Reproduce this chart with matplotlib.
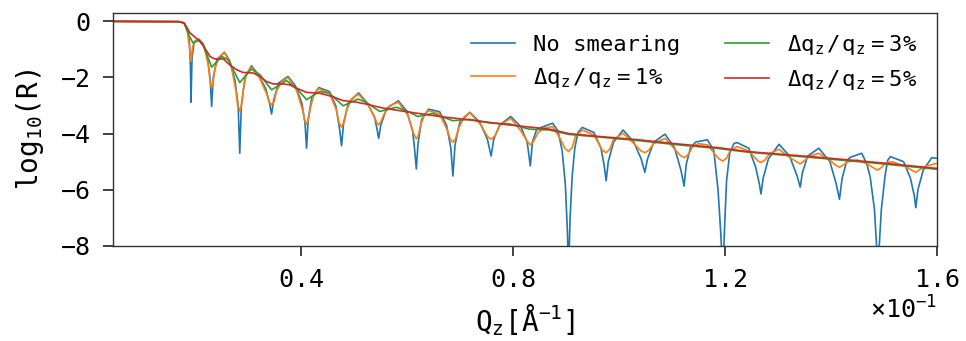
import matplotlib
matplotlib.use("Agg")
import matplotlib.pyplot as plt

# reflectivity curves (log10 R)
q_none = [0.0046, 0.0170, 0.0180, 0.0186, 0.0190, 0.0192, 0.0193, 0.0195, 0.0199,
          0.0208, 0.0216, 0.0224, 0.0229, 0.0232, 0.0235, 0.0242,
          0.0256, 0.0266, 0.0276, 0.0282, 0.0285, 0.0288, 0.0295,
          0.0307, 0.0320, 0.0334, 0.0341, 0.0345, 0.0349, 0.0358,
          0.0376, 0.0390, 0.0402, 0.0408, 0.0411, 0.0414, 0.0421,
          0.0434, 0.0454, 0.0466, 0.0473, 0.0477, 0.0481, 0.0490,
          0.0509, 0.0525, 0.0539, 0.0544, 0.0547, 0.0551, 0.0562,
          0.0584, 0.0600, 0.0611, 0.0615, 0.0618, 0.0621, 0.0628,
          0.0641, 0.0662, 0.0675, 0.0683, 0.0687, 0.0691, 0.0700,
          0.0719, 0.0738, 0.0752, 0.0759, 0.0764, 0.0775,
          0.0796, 0.0815, 0.0827, 0.0833, 0.0837, 0.0845,
          0.0855, 0.0875, 0.0885, 0.0893, 0.0899, 0.0903, 0.0905, 0.0908, 0.0912, 0.0917, 0.0923,
          0.0931, 0.0953, 0.0966, 0.0972, 0.0976, 0.0980, 0.0990,
          0.1008, 0.1028, 0.1042, 0.1049, 0.1054, 0.1066,
          0.1087, 0.1105, 0.1117, 0.1123, 0.1127, 0.1135,
          0.1145, 0.1167, 0.1179, 0.1187, 0.1192, 0.1196, 0.1199, 0.1203, 0.1209, 0.1217,
          0.1223, 0.1245, 0.1258, 0.1265, 0.1268, 0.1272, 0.1282,
          0.1302, 0.1322, 0.1336, 0.1342, 0.1346, 0.1356,
          0.1377, 0.1398, 0.1410, 0.1416, 0.1421, 0.1430,
          0.1437, 0.1458, 0.1468, 0.1474, 0.1482, 0.1486, 0.1488, 0.1491, 0.1495, 0.1502, 0.1507,
          0.1512, 0.1537, 0.1550, 0.1557, 0.1560, 0.1564, 0.1574,
          0.1590, 0.1600]
r_none = [0.0, -0.01, -0.05, -0.25, -0.7, -1.6, -2.88, -1.3, -0.75,
          -0.63, -0.8, -1.3, -2.0, -3.03, -2.0, -1.35,
          -1.1, -1.4, -2.1, -3.0, -4.7, -3.0, -2.0,
          -1.58, -1.9, -2.4, -2.9, -3.3, -2.8, -2.2,
          -1.96, -2.3, -2.9, -3.6, -4.52, -3.5, -2.7,
          -2.36, -2.5, -3.0, -3.8, -4.43, -3.6, -2.9,
          -2.55, -2.9, -3.4, -3.85, -4.17, -3.7, -3.1,
          -2.83, -3.2, -3.9, -4.6, -5.26, -4.4, -3.5,
          -3.13, -3.22, -3.7, -4.5, -5.51, -4.4, -3.6,
          -3.24, -3.6, -4.2, -4.8, -4.2, -3.7,
          -3.39, -3.75, -4.3, -5.15, -4.3, -3.85,
          -3.77, -3.63, -3.9, -4.6, -5.8, -7.5, -9.0, -7.0, -5.5, -4.5, -3.95,
          -3.78, -3.96, -4.5, -5.1, -5.68, -5.0, -4.3,
          -3.87, -4.3, -4.9, -5.38, -4.9, -4.3,
          -4.02, -4.5, -5.3, -5.87, -5.1, -4.5,
          -4.3, -4.22, -4.6, -6.0, -7.5, -9.0, -7.5, -5.7, -4.7, -4.35,
          -4.32, -4.52, -5.2, -5.8, -6.15, -5.6, -4.9,
          -4.38, -4.8, -5.5, -5.91, -5.4, -4.8,
          -4.52, -5.0, -5.8, -6.34, -5.6, -4.95,
          -4.84, -4.70, -5.1, -5.55, -6.7, -8.0, -9.0, -8.0, -6.7, -5.5, -4.95,
          -4.82, -5.0, -5.6, -6.2, -6.64, -6.0, -5.3,
          -4.86, -4.88]

q_1pct = [0.0046, 0.0170, 0.0180, 0.0186, 0.0190, 0.0193, 0.0196, 0.0201,
          0.0208, 0.0218, 0.0226, 0.0229, 0.0232, 0.0235, 0.0238, 0.0245,
          0.0256, 0.0268, 0.0278, 0.0281, 0.0285, 0.0289, 0.0292, 0.0298,
          0.0307, 0.0322, 0.0336, 0.0340, 0.0345, 0.0350, 0.0354, 0.0364,
          0.0376, 0.0392, 0.0404, 0.0407, 0.0411, 0.0415, 0.0418, 0.0425,
          0.0434, 0.0454, 0.0468, 0.0472, 0.0477, 0.0482, 0.0486, 0.0496,
          0.0509, 0.0528, 0.0540, 0.0543, 0.0547, 0.0551, 0.0556, 0.0568,
          0.0584, 0.0602, 0.0612, 0.0615, 0.0618, 0.0622, 0.0626, 0.0634,
          0.0641, 0.0662, 0.0677, 0.0682, 0.0687, 0.0692, 0.0697, 0.0708,
          0.0719, 0.0740, 0.0752, 0.0759, 0.0766, 0.0776,
          0.0796, 0.0815, 0.0827, 0.0833, 0.0839, 0.0848, 0.0860,
          0.0875, 0.0890, 0.0898, 0.0905, 0.0912, 0.0918,
          0.0931, 0.0953, 0.0969, 0.0976, 0.0983, 0.0990,
          0.1008, 0.1028, 0.1042, 0.1049, 0.1056, 0.1066,
          0.1087, 0.1105, 0.1116, 0.1123, 0.1130, 0.1140, 0.1150,
          0.1167, 0.1182, 0.1189, 0.1196, 0.1203, 0.1210,
          0.1223, 0.1245, 0.1262, 0.1268, 0.1275, 0.1285,
          0.1302, 0.1322, 0.1335, 0.1342, 0.1349, 0.1360,
          0.1377, 0.1398, 0.1409, 0.1416, 0.1423, 0.1433,
          0.1450, 0.1470, 0.1481, 0.1488, 0.1495, 0.1503,
          0.1515, 0.1537, 0.1553, 0.1560, 0.1567, 0.1580, 0.1600]
r_1pct = [0.0, -0.01, -0.05, -0.3, -0.9, -1.43, -0.9, -0.68,
          -0.65, -0.9, -1.6, -2.15, -2.36, -2.15, -1.7, -1.3,
          -1.12, -1.5, -2.5, -3.0, -3.19, -2.95, -2.4, -1.85,
          -1.62, -2.0, -2.6, -2.85, -2.98, -2.85, -2.5, -2.15,
          -2.0, -2.45, -3.2, -3.5, -3.67, -3.45, -3.1, -2.6,
          -2.4, -2.55, -3.2, -3.6, -3.77, -3.58, -3.2, -2.75,
          -2.6, -3.0, -3.45, -3.6, -3.69, -3.58, -3.35, -3.0,
          -2.88, -3.35, -3.95, -4.08, -4.19, -4.05, -3.7, -3.3,
          -3.18, -3.3, -3.9, -4.2, -4.31, -4.18, -3.85, -3.4,
          -3.26, -3.7, -4.1, -4.2, -4.08, -3.7,
          -3.45, -3.9, -4.27, -4.40, -4.28, -3.95, -3.8,
          -3.75, -4.2, -4.52, -4.64, -4.5, -4.1,
          -3.87, -4.05, -4.6, -4.68, -4.55, -4.2,
          -3.99, -4.35, -4.62, -4.68, -4.6, -4.35,
          -4.17, -4.55, -4.78, -4.86, -4.76, -4.45, -4.36,
          -4.4, -4.75, -4.9, -4.98, -4.88, -4.6,
          -4.46, -4.62, -4.97, -5.03, -4.95, -4.7,
          -4.56, -4.85, -5.0, -5.08, -4.98, -4.8,
          -4.70, -4.95, -5.13, -5.2, -5.12, -5.0,
          -4.94, -5.1, -5.23, -5.30, -5.21, -5.05,
          -5.0, -5.15, -5.31, -5.38, -5.29, -5.15, -5.06]

q_3pct = [0.0046, 0.0170, 0.0180, 0.0190, 0.0197, 0.0207, 0.0216, 0.0232, 0.0251,
          0.0263, 0.0285, 0.0307, 0.0323, 0.0345, 0.0373, 0.0392, 0.0411, 0.0436,
          0.0454, 0.0480, 0.0508, 0.0524, 0.0549, 0.0580, 0.0599, 0.0621, 0.0649,
          0.0687, 0.0718, 0.0759, 0.0793, 0.0831, 0.0869, 0.0906, 0.0962, 0.1037,
          0.1112, 0.1187, 0.1243, 0.1375, 0.1488, 0.1600]
r_3pct = [0.0, -0.01, -0.06, -0.53, -0.77, -0.68, -0.83, -1.63, -1.25,
          -1.37, -2.18, -1.70, -1.90, -2.44, -2.11, -2.38, -2.79, -2.50,
          -2.56, -3.01, -2.77, -2.89, -3.21, -3.06, -3.18, -3.39, -3.28,
          -3.54, -3.49, -3.63, -3.65, -3.84, -3.87, -4.03, -4.12, -4.25,
          -4.40, -4.53, -4.66, -4.87, -5.06, -5.27]

q_5pct = [0.0046, 0.0170, 0.0180, 0.0191, 0.0210, 0.0219, 0.0229, 0.0238, 0.0254,
          0.0266, 0.0279, 0.0291, 0.0310, 0.0323, 0.0335, 0.0348, 0.0367, 0.0379,
          0.0392, 0.0411, 0.0436, 0.0460, 0.0479, 0.0505, 0.0524, 0.0555, 0.0586,
          0.0618, 0.0662, 0.0718, 0.0793, 0.0869, 0.0906, 0.0962, 0.1037, 0.1112,
          0.1187, 0.1243, 0.1375, 0.1488, 0.1600]
r_5pct = [0.0, -0.01, -0.06, -0.41, -0.71, -0.95, -1.25, -1.34, -1.34,
          -1.55, -1.72, -1.82, -1.84, -1.96, -2.14, -2.23, -2.23, -2.26,
          -2.38, -2.53, -2.56, -2.68, -2.82, -2.88, -2.95, -3.09, -3.18,
          -3.27, -3.39, -3.51, -3.69, -3.84, -4.0, -4.1, -4.22, -4.37,
          -4.5, -4.64, -4.84, -5.03, -5.24]

labels = ['No smearing',
          r'$\Delta \mathrm{q_z}\,/\,\mathrm{q_z}\,=\,1\%$',
          r'$\Delta \mathrm{q_z}\,/\,\mathrm{q_z}\,=\,3\%$',
          r'$\Delta \mathrm{q_z}\,/\,\mathrm{q_z}\,=\,5\%$']
xticks = [0.04, 0.08, 0.12, 0.16]
yticks = [0, -2, -4, -6, -8]

plt.rcParams['font.family'] = 'DejaVu Sans Mono'
plt.rcParams['mathtext.fontset'] = 'custom'
plt.rcParams['mathtext.rm'] = 'DejaVu Sans Mono'
plt.rcParams['mathtext.it'] = 'DejaVu Sans Mono:italic'
plt.rcParams['mathtext.bf'] = 'DejaVu Sans Mono:bold'

fig = plt.figure(figsize=(9.66, 3.41), dpi=100)
ax = fig.add_axes([0.117, 0.279, 0.853, 0.683])

ax.plot(q_none, r_none, color='#1f77b4', lw=1.2, label=labels[0])
ax.plot(q_1pct, r_1pct, color='#ff7f0e', lw=1.2, label=labels[1])
ax.plot(q_3pct, r_3pct, color='#2ca02c', lw=1.2, label=labels[2])
ax.plot(q_5pct, r_5pct, color='#d62728', lw=1.2, label=labels[3])

ax.set_xlim(0.0046, 0.16)
ax.set_ylim(-8, 0.3)
ax.set_xticks(xticks)
ax.set_yticks(yticks)
ax.ticklabel_format(axis='x', style='sci', scilimits=(0, 0), useMathText=True)
ax.xaxis.get_offset_text().set_fontsize(18)
ax.tick_params(labelsize=18, length=7, width=1.2, pad=9, color='#222222')
for s in ax.spines.values():
    s.set_color('#333333')
    s.set_linewidth(1.0)

ax.set_xlabel(r'$\mathrm{Q_z [\AA^{-1}]}$', fontsize=20, labelpad=7)
ax.set_ylabel(r'$\mathrm{log_{10}(R)}$', fontsize=20, labelpad=11)

ax.legend(ncol=2, frameon=False, fontsize=16, loc='upper right', columnspacing=2.0)

fig.savefig('out.png', dpi=100)
